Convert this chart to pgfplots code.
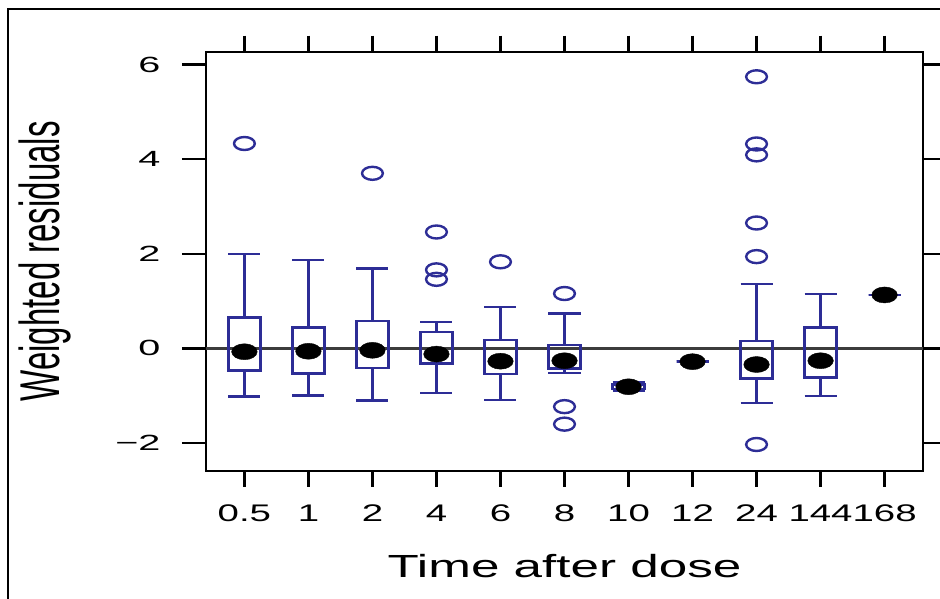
\documentclass[border=0pt]{standalone}
\usepackage{fontspec}
\setmainfont{Liberation Sans}
\usepackage{graphicx}
\usepackage{pgfplots}
\pgfplotsset{compat=1.18}
\usepgfplotslibrary{statistics}
\definecolor{bw}{RGB}{45,45,150}
\definecolor{refline}{RGB}{60,60,60}
% the reference is stretched sideways, so text is too
\newcommand{\xs}[1]{\scalebox{1.6}[1]{#1}}
\newcommand{\ys}[1]{\scalebox{1.8}[1]{#1}}

\pgfplotsset{
    frame/.style={
        at={(206pt,128pt)}, anchor=south west,
        width=717pt, height=419.3pt, scale only axis,
        xmin=-0.6, xmax=10.6, ymin=-2.59, ymax=6.27,
        tick align=outside,
        tick style={black, line width=2.2pt},
        major tick style={black, line width=2.2pt},
    },
    bx/.style={bw, line width=2.5pt},
}

\begin{document}
\begin{tikzpicture}[x=1pt,y=1pt]
\useasboundingbox (0,0) rectangle (940,599);
\draw[line width=2.2pt] (8,-5) -- (8,590) -- (950,590);
\begin{axis}[
    frame,
    major tick length=16pt,
    xtick={0,...,10},
    xticklabels={\xs{0.5},\xs{1},\xs{2},\xs{4},\xs{6},\xs{8},\xs{10},\xs{12},\xs{24},\xs{144},\xs{168}},
    ytick=\empty,
    xtick pos=both, xticklabel pos=lower,
    axis line style={line width=2.2pt},
    xticklabel style={font=\fontsize{24}{24}\selectfont, yshift=-14pt},
    xlabel={\xs{Time after dose}},
    ylabel={\scalebox{1}[1.7]{Weighted residuals}},
    xlabel style={font=\fontsize{32}{32}\selectfont, at={(axis description cs:0.5,-0.2528)}, anchor=base},
    ylabel style={font=\fontsize{33}{33}\selectfont, at={(axis description cs:-0.205,0.5)}, anchor=base},
    boxplot/draw direction=y,
    boxplot/box extend=0.5,
    boxplot/whisker extend=0.5,
    boxplot/draw/median/.code={},
]

% zero reference line
\addplot[refline, line width=2.2pt] coordinates {(-0.6,0) (10.6,0)};

% boxes: lower whisker, lower quartile, median, upper quartile, upper whisker
\addplot[bx, boxplot prepared={draw position=0, lower whisker=-1.02, lower quartile=-0.47, median=-0.07, upper quartile=0.655, upper whisker=1.99}] coordinates {};
\addplot[bx, boxplot prepared={draw position=1, lower whisker=-0.99, lower quartile=-0.53, median=-0.06, upper quartile=0.44, upper whisker=1.87}] coordinates {};
\addplot[bx, boxplot prepared={draw position=2, lower whisker=-1.10, lower quartile=-0.41, median=-0.04, upper quartile=0.58, upper whisker=1.69}] coordinates {};
\addplot[bx, boxplot prepared={draw position=3, lower whisker=-0.94, lower quartile=-0.32, median=-0.12, upper quartile=0.35, upper whisker=0.56}] coordinates {};
\addplot[bx, boxplot prepared={draw position=4, lower whisker=-1.09, lower quartile=-0.54, median=-0.27, upper quartile=0.18, upper whisker=0.88}] coordinates {};
\addplot[bx, boxplot prepared={draw position=5, lower whisker=-0.52, lower quartile=-0.42, median=-0.26, upper quartile=0.07, upper whisker=0.74}] coordinates {};
\addplot[bx, boxplot prepared={draw position=6, lower whisker=-0.90, lower quartile=-0.86, median=-0.81, upper quartile=-0.76, upper whisker=-0.72}] coordinates {};
\addplot[bx, boxplot prepared={draw position=7, lower whisker=-0.28, lower quartile=-0.28, median=-0.28, upper quartile=-0.28, upper whisker=-0.28}] coordinates {};
\addplot[bx, boxplot prepared={draw position=8, lower whisker=-1.15, lower quartile=-0.64, median=-0.34, upper quartile=0.16, upper whisker=1.36}] coordinates {};
\addplot[bx, boxplot prepared={draw position=9, lower whisker=-1.01, lower quartile=-0.61, median=-0.26, upper quartile=0.44, upper whisker=1.15}] coordinates {};
\addplot[bx, boxplot prepared={draw position=10, lower whisker=1.13, lower quartile=1.13, median=1.13, upper quartile=1.13, upper whisker=1.13}] coordinates {};

% outliers
\addplot[only marks, mark=o, bw, mark size=6.5pt, mark options={xscale=1.6, line width=2.4pt}] coordinates {
    (0,4.33) (2,3.70) (3,2.46) (3,1.66) (3,1.46) (4,1.83)
    (5,1.16) (5,-1.23) (5,-1.60)
    (8,5.74) (8,4.32) (8,4.09) (8,2.65) (8,1.94) (8,-2.03)
};

% medians
\addplot[only marks, mark=*, black, mark size=8pt, mark options={xscale=1.6, fill=black}] coordinates {
    (0,-0.07) (1,-0.06) (2,-0.04) (3,-0.12) (4,-0.27) (5,-0.26)
    (6,-0.81) (7,-0.28) (8,-0.34) (9,-0.26) (10,1.13)
};
\end{axis}

% y ticks are longer than x ticks in the reference
\begin{axis}[
    frame,
    major tick length=24pt,
    axis line style={draw=none},
    xtick=\empty,
    ytick={-2,0,2,4,6},
    yticklabels={\ys{−2},\ys{0},\ys{2},\ys{4},\ys{6}},
    ytick pos=both, yticklabel pos=left,
    yticklabel style={font=\fontsize{22}{22}\selectfont, xshift=-18pt},
]
\end{axis}
\end{tikzpicture}
\end{document}
